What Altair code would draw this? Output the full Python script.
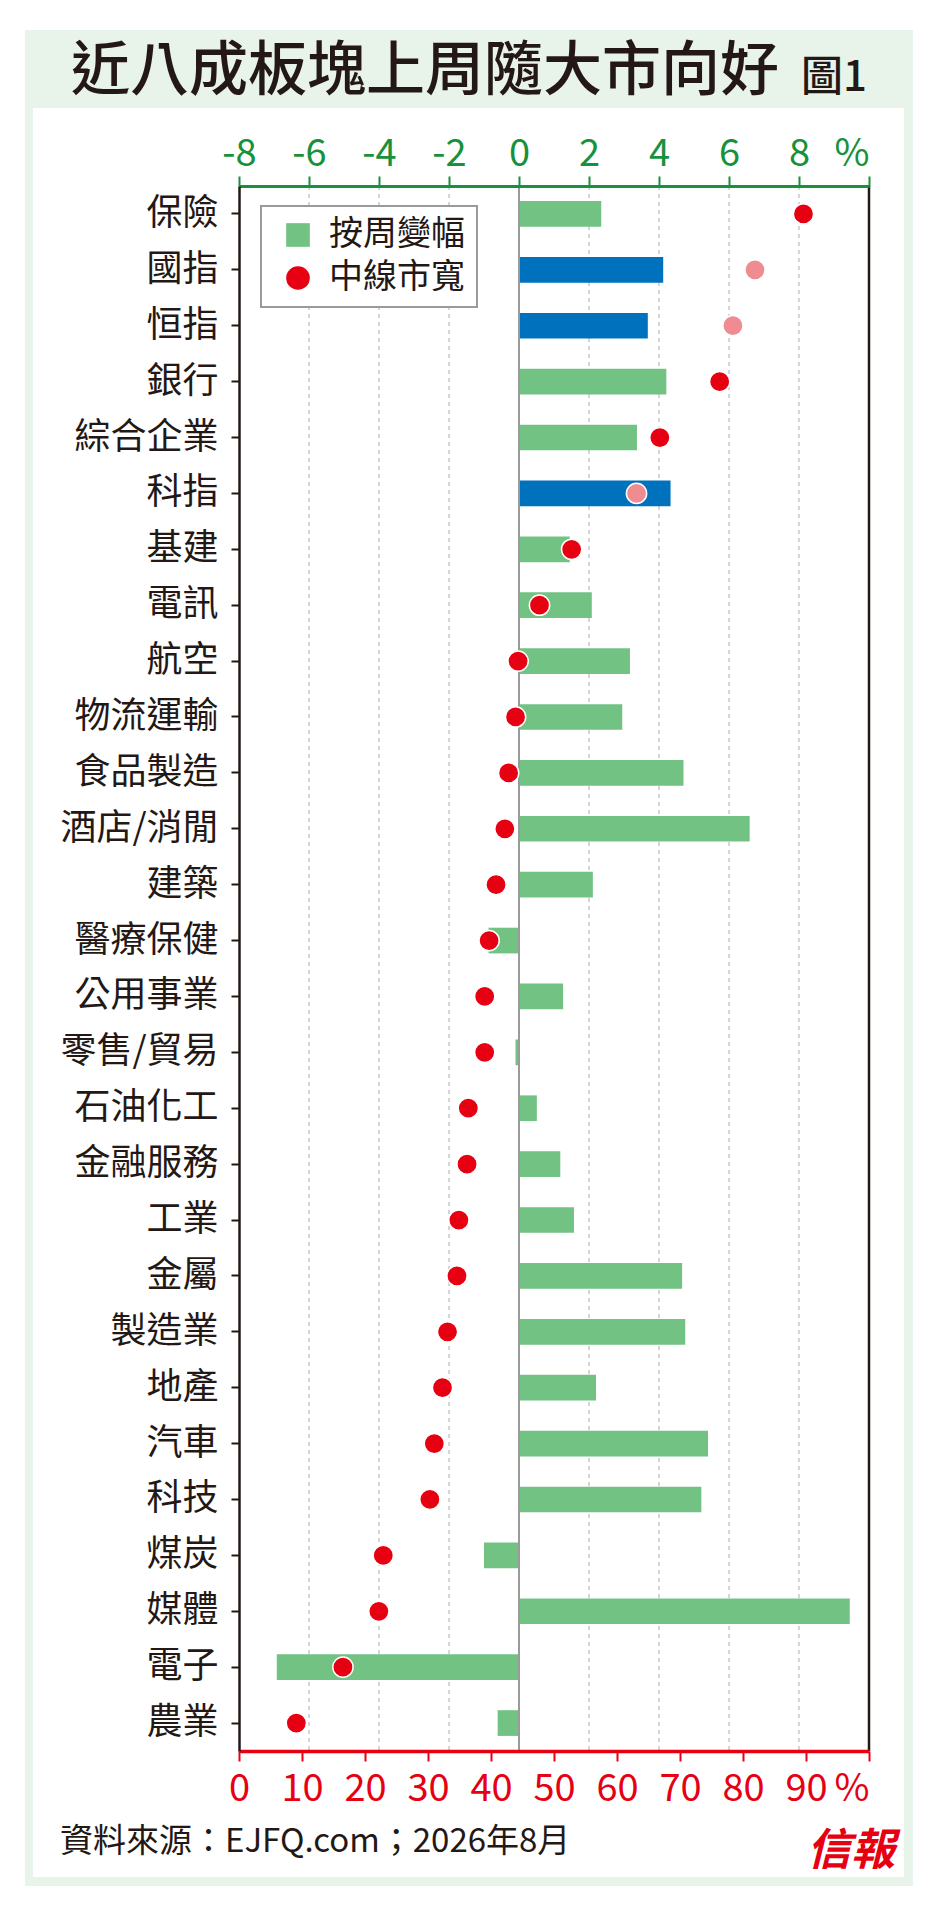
import altair as alt
import pandas as pd

# ---------------- data ----------------
categories = ["保險", "國指", "恒指", "銀行", "綜合企業", "科指", "基建", "電訊", "航空",
              "物流運輸", "食品製造", "酒店/消閒", "建築", "醫療保健", "公用事業", "零售/貿易",
              "石油化工", "金融服務", "工業", "金屬", "製造業", "地產", "汽車", "科技",
              "煤炭", "媒體", "電子", "農業"]
weekly_change = [2.35, 4.12, 3.68, 4.21, 3.37, 4.33, 1.45, 2.08, 3.17,
                 2.95, 4.70, 6.59, 2.11, -0.87, 1.26, -0.10,
                 0.51, 1.18, 1.57, 4.66, 4.75, 2.20, 5.40, 5.21,
                 -1.00, 9.45, -6.92, -0.61]
breadth = [89.6, 81.9, 78.4, 76.3, 66.8, 63.1, 52.8, 47.7, 44.3,
           43.9, 42.8, 42.2, 40.8, 39.7, 39.0, 39.0,
           36.4, 36.2, 34.9, 34.6, 33.1, 32.3, 31.0, 30.3,
           22.9, 22.2, 16.5, 9.1]
index_names = ["國指", "恒指", "科指"]
top_ticks = [-8, -6, -4, -2, 0, 2, 4, 6, 8, 10]
grid_ticks = [-6, -4, -2, 2, 4, 6, 8]
bottom_ticks = [0, 10, 20, 30, 40, 50, 60, 70, 80, 90, 100]
legend_names = ["按周變幅", "中線市寬"]

title_text = "近八成板塊上周隨大市向好"
fig_text = "圖1"
source_text = "資料來源：EJFQ.com；2026年8月"
logo_text = "信報"

# ---------------- styles ----------------
FONT = "Noto Sans CJK TC"
AX_GREEN = "#17913b"
RED = "#e60012"
BAR_GREEN = "#72c283"
BLUE = "#0071bc"
PINK = "#ef8c91"
INK = "#231815"
PANEL = "#e8f3ea"

W, H = 630, 1565

df = pd.DataFrame({"cat": categories, "pct": weekly_change, "breadth": breadth})
one = pd.DataFrame({"k": [0]})
grid_df = pd.DataFrame({"g": grid_ticks})
legend_df = pd.DataFrame({"s": legend_names})

pct_scale = alt.Scale(domain=[-8, 10], nice=False, zero=False)
br_scale = alt.Scale(domain=[0, 100], nice=False, zero=False)
y_scale = alt.Scale(paddingInner=0.54, paddingOuter=0.27)

top_axis = alt.Axis(
    orient="top", values=top_ticks,
    labelExpr="datum.value == 10 ? '%' : toString(datum.value)",
    labelAlign={"condition": {"test": "datum.value == 10", "value": "right"}, "value": "center"},
    labelFont=FONT, labelFontSize=38, labelColor=AX_GREEN, labelPadding=3,
    labelFlush=False, labelOverlap=False,
    tickColor=AX_GREEN, tickSize=10, tickWidth=2,
    domainColor=AX_GREEN, domainWidth=3, grid=False, title=None, zindex=1,
)
bottom_axis = alt.Axis(
    orient="bottom", values=bottom_ticks,
    labelExpr="datum.value == 100 ? '%' : toString(datum.value)",
    labelAlign={"condition": {"test": "datum.value == 100", "value": "right"}, "value": "center"},
    labelFont=FONT, labelFontSize=38, labelColor=RED, labelPadding=9,
    labelFlush=False, labelOverlap=False,
    tickColor=RED, tickSize=10, tickWidth=2,
    domainColor=RED, domainWidth=3.5, grid=False, title=None, zindex=1,
)
y_axis = alt.Axis(
    orient="left", labelFont=FONT, labelFontSize=36, labelColor=INK, labelPadding=13,
    labelLimit=400, tickColor=INK, tickSize=8, tickWidth=2,
    domainColor=INK, domainWidth=2.5, grid=False, title=None, zindex=1,
)

Y = alt.Y("cat:N", sort=categories, scale=y_scale, axis=y_axis, title=None)
is_index = alt.FieldOneOfPredicate(field="cat", oneOf=index_names)


def rect(x, x2, y, y2, color):
    return alt.Chart(one).mark_rect(color=color).encode(
        x=alt.value(x), x2=alt.value(x2), y=alt.value(y), y2=alt.value(y2))


def label(text, x, y, size, color=INK, align="left", weight="normal", style="normal"):
    return alt.Chart(one).mark_text(
        text=text, font=FONT, fontSize=size, color=color, align=align,
        baseline="alphabetic", fontWeight=weight, fontStyle=style,
    ).encode(x=alt.value(x), y=alt.value(y))


green_panel = rect(-214, 674, -156, 1700, PANEL)
white_panel = rect(-206, 665, -78, 1691, "white")

grid = alt.Chart(grid_df).mark_rule(color="#ababab", strokeWidth=1, strokeDash=[4, 4]).encode(
    x=alt.X("g:Q", scale=pct_scale, axis=top_axis, title=None))

bars = alt.Chart(df).mark_bar().encode(
    x=alt.X("pct:Q", scale=pct_scale, axis=top_axis, title=None),
    y=Y,
    color=alt.condition(is_index, alt.value(BLUE), alt.value(BAR_GREEN)),
)

zero_rule = alt.Chart(one).mark_rule(color="#9a9a9a", strokeWidth=2).encode(
    x=alt.XDatum(0, scale=pct_scale, axis=top_axis))
right_rule = alt.Chart(one).mark_rule(color=INK, strokeWidth=2.5).encode(
    x=alt.XDatum(10, scale=pct_scale, axis=top_axis))

inner = alt.layer(grid, bars, zero_rule, right_rule)

points = alt.Chart(df).mark_circle(size=410, opacity=1, stroke="white", strokeWidth=1.5).encode(
    x=alt.X("breadth:Q", scale=br_scale, axis=bottom_axis, title=None),
    y=Y,
    color=alt.condition(is_index, alt.value(PINK), alt.value(RED)),
)

leg = alt.Legend(
    title=None, orient="none", legendX=22, legendY=20, direction="vertical",
    fillColor="white", strokeColor="#9a9a9a", padding=12,
    labelFont=FONT, labelFontSize=34, labelColor=INK, labelOffset=14, labelLimit=400,
    symbolSize=560, symbolStrokeWidth=0, symbolOpacity=1, symbolOffset=8,
    rowPadding=9, zindex=1,
)
legend_layer = alt.Chart(legend_df).mark_point(filled=True, opacity=0).encode(
    x=alt.value(0), y=alt.value(0),
    color=alt.Color("s:N", scale=alt.Scale(domain=legend_names, range=[BAR_GREEN, RED]), legend=leg),
    shape=alt.Shape("s:N", scale=alt.Scale(domain=legend_names, range=["square", "circle"]), legend=leg),
)

title_mark = label(title_text, -168, -96, 59, weight=500)
fig_mark = label(fig_text, 562, -95, 42, weight=500)
source_mark = label(source_text, -179, 1666, 33)
logo_mark = label(logo_text, 612, 1679, 44, color=RED, align="center", weight="bold", style="italic")

chart = alt.layer(
    green_panel, white_panel, inner, points, legend_layer,
    title_mark, fig_mark, source_mark, logo_mark,
).resolve_scale(x="independent").properties(
    width=W, height=H,
    padding={"left": 231, "top": 178, "right": 50, "bottom": 140},
    autosize=alt.AutoSizeParams(type="none"),
).configure_view(stroke=None).configure(background="white").configure_legend(strokeWidth=2)

chart.save("out.html", embed_options={"renderer": "svg", "actions": False})
